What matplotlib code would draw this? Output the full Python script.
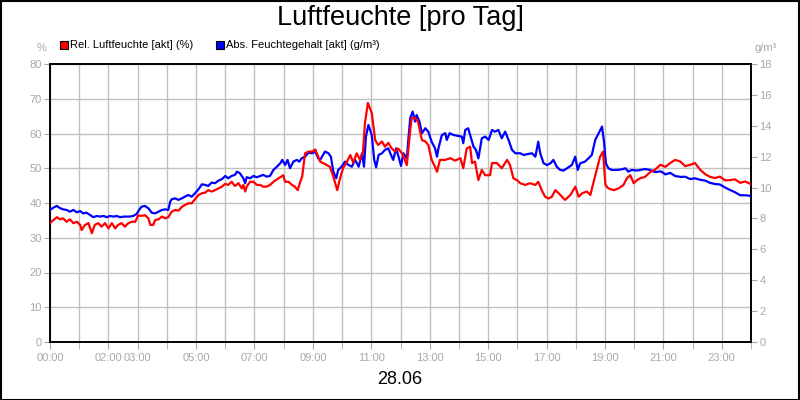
import matplotlib
matplotlib.use("Agg")
import matplotlib.pyplot as plt
from matplotlib.patches import Rectangle
import numpy as np

plt.rcParams['font.family'] = ['Liberation Sans', 'DejaVu Sans']

title = "Luftfeuchte [pro Tag]"
date_label = "28.06"
rel_label = "Rel. Luftfeuchte [akt] (%)"
abs_label = "Abs. Feuchtegehalt [akt] (g/m³)"

# minutes since midnight, relative humidity (%)
rel_min = [0, 7, 14, 21, 27, 34, 41, 48, 55, 62, 65, 72, 79, 86, 92, 99, 106, 113, 120, 127,
           134, 140, 147, 154, 161, 168, 175, 181, 188, 195, 202, 206, 212, 216, 223, 230, 236, 243, 250, 257,
           264, 271, 277, 284, 291, 298, 305, 312, 319, 325, 332, 339, 346, 353, 360, 366, 373, 380, 387, 394,
           397, 401, 404, 411, 418, 425, 432, 438, 445, 452, 459, 466, 473, 479, 483, 490, 497, 503, 509, 514,
           518, 524, 531, 539, 545, 551, 555, 565, 575, 582, 590, 596, 602, 610, 617, 623, 630, 637, 643, 647,
           653, 661, 668, 674, 682, 688, 695, 702, 709, 715, 723, 725, 733, 740, 743, 750, 756, 764, 771, 777,
           784, 791, 795, 801, 812, 822, 832, 843, 849, 856, 863, 867, 873, 880, 887, 894, 904, 908, 918, 928,
           939, 945, 952, 959, 966, 976, 986, 997, 1003, 1010, 1017, 1024, 1031, 1038, 1045, 1052, 1058, 1069, 1079, 1086,
           1093, 1103, 1110, 1116, 1123, 1130, 1136, 1141, 1147, 1158, 1168, 1178, 1185, 1192, 1199, 1206, 1212, 1222, 1233, 1243,
           1254, 1264, 1274, 1284, 1294, 1305, 1315, 1325, 1336, 1346, 1356, 1366, 1376, 1387, 1397, 1407, 1418, 1428, 1440]
rel_val = [34.2, 35.1, 35.9, 35.3, 35.6, 34.6, 35.3, 34.2, 34.6, 33.7, 32.2, 33.7, 34.2, 31.3, 33.7, 34.2, 33.2, 34.2, 32.7, 34.2,
           32.7, 33.7, 34.2, 33.2, 34.2, 34.6, 34.6, 36.4, 36.3, 36.5, 35.6, 33.7, 33.7, 35.1, 35.3, 36.1, 35.6, 35.9, 37.5, 38.0,
           37.8, 38.9, 39.4, 39.9, 39.9, 41.1, 42.3, 42.8, 43.0, 43.7, 43.3, 43.7, 44.2, 44.7, 45.5, 45.2, 46.1, 44.9, 45.7, 44.2,
           45.2, 43.3, 44.7, 46.1, 46.1, 45.2, 45.2, 44.7, 44.7, 45.2, 46.1, 46.8, 47.4, 48.0, 46.1, 46.1, 45.2, 44.7, 43.7, 46.1,
           47.6, 54.3, 54.8, 54.8, 55.4, 53.3, 51.9, 51.2, 50.4, 47.6, 43.7, 47.2, 50.0, 51.9, 53.8, 51.6, 54.3, 52.4, 54.8, 63.0,
           68.8, 65.9, 58.1, 56.7, 57.7, 56.2, 57.3, 55.7, 54.8, 55.7, 54.3, 53.8, 50.9, 61.0, 64.4, 64.5, 63.4, 58.1, 57.7, 56.7,
           52.4, 50.4, 49.0, 52.4, 52.4, 52.9, 52.2, 52.9, 50.0, 55.7, 56.2, 51.5, 51.9, 46.6, 49.5, 48.0, 48.0, 51.5, 51.5, 50.0,
           52.4, 50.9, 47.1, 46.6, 45.7, 45.2, 45.7, 45.2, 46.1, 43.7, 41.8, 41.3, 41.8, 43.7, 42.8, 41.8, 40.9, 42.3, 44.7, 41.8,
           42.8, 43.3, 42.3, 45.7, 49.5, 53.3, 54.8, 45.2, 44.2, 43.7, 44.2, 45.2, 47.1, 48.0, 45.7, 46.6, 47.1, 47.5, 48.9, 49.6,
           51.0, 50.4, 51.5, 52.4, 52.0, 50.6, 51.0, 51.5, 49.5, 48.3, 47.5, 47.2, 47.6, 46.5, 46.6, 46.8, 45.8, 46.2, 45.4]

# minutes since midnight, absolute humidity (g/m³)
abs_min = [0, 7, 14, 21, 27, 34, 41, 48, 55, 62, 68, 75, 82, 89, 96, 103, 110, 117, 123, 130,
           137, 144, 151, 158, 164, 171, 178, 183, 188, 195, 202, 209, 216, 223, 230, 236, 243, 247, 250, 257,
           264, 271, 277, 284, 291, 298, 305, 312, 319, 325, 332, 339, 346, 353, 360, 366, 373, 380, 384, 390,
           397, 401, 404, 411, 418, 425, 432, 438, 445, 452, 459, 466, 473, 477, 483, 488, 493, 500, 507, 512,
           517, 524, 531, 538, 545, 551, 555, 565, 572, 577, 582, 588, 592, 599, 606, 613, 620, 627, 634, 641,
           645, 649, 654, 661, 666, 670, 675, 682, 688, 695, 699, 705, 711, 716, 721, 726, 733, 736, 740, 745,
           750, 753, 759, 764, 771, 777, 784, 791, 795, 798, 805, 812, 815, 821, 829, 839, 846, 849, 853, 859,
           864, 870, 875, 880, 887, 894, 901, 908, 914, 921, 928, 935, 942, 949, 956, 966, 973, 983, 990, 997,
           1003, 1007, 1014, 1021, 1028, 1034, 1041, 1048, 1055, 1062, 1072, 1079, 1084, 1089, 1099, 1106, 1113, 1120, 1127, 1134,
           1138, 1142, 1147, 1154, 1165, 1175, 1182, 1188, 1195, 1206, 1212, 1222, 1233, 1243, 1254, 1260, 1264, 1274, 1284, 1295,
           1305, 1315, 1325, 1336, 1346, 1356, 1366, 1376, 1387, 1397, 1407, 1418, 1428, 1440]
abs_val = [8.55, 8.70, 8.81, 8.66, 8.59, 8.55, 8.44, 8.55, 8.40, 8.48, 8.33, 8.37, 8.23, 8.08, 8.16, 8.12, 8.16, 8.08, 8.16, 8.12,
           8.16, 8.08, 8.12, 8.12, 8.12, 8.16, 8.29, 8.55, 8.76, 8.81, 8.66, 8.37, 8.33, 8.44, 8.55, 8.59, 8.55, 9.09, 9.24, 9.30,
           9.20, 9.30, 9.41, 9.52, 9.41, 9.63, 9.89, 10.21, 10.17, 10.10, 10.32, 10.28, 10.45, 10.54, 10.75, 10.60, 10.75, 10.82, 11.03, 10.93,
           10.60, 10.28, 10.67, 10.60, 10.75, 10.67, 10.75, 10.82, 10.71, 10.75, 11.14, 11.35, 11.57, 11.79, 11.46, 11.79, 11.25, 11.68, 11.79, 11.68,
           11.89, 12.00, 12.26, 12.22, 12.33, 11.89, 11.79, 12.33, 12.22, 12.00, 11.03, 10.60, 11.14, 11.35, 11.68, 11.46, 11.35, 11.79, 11.35, 12.22,
           11.35, 13.30, 14.05, 13.40, 11.79, 11.31, 12.11, 12.22, 12.44, 12.54, 12.22, 11.79, 12.54, 12.00, 11.40, 12.22, 11.89, 13.08, 14.49, 14.92,
           14.27, 14.70, 14.27, 13.52, 13.84, 13.62, 12.97, 12.54, 12.00, 12.54, 13.40, 13.52, 13.08, 13.52, 13.40, 13.34, 13.30, 12.87, 13.73, 13.84,
           13.30, 12.65, 12.44, 11.89, 13.19, 13.30, 13.08, 13.73, 13.62, 13.73, 13.19, 13.62, 13.08, 12.44, 12.22, 12.22, 12.11, 12.18, 12.22, 12.00,
           12.97, 12.22, 11.57, 11.46, 11.57, 11.79, 11.35, 11.14, 11.10, 11.25, 11.46, 12.00, 11.14, 11.57, 11.68, 11.89, 12.11, 13.08, 13.52, 13.95,
           12.97, 11.57, 11.25, 11.14, 11.14, 11.18, 11.25, 11.03, 11.14, 11.10, 11.14, 11.20, 11.14, 11.00, 11.05, 10.95, 10.85, 10.95, 10.75, 10.69,
           10.70, 10.55, 10.60, 10.50, 10.45, 10.30, 10.23, 10.20, 10.00, 9.84, 9.70, 9.50, 9.50, 9.46]

hour_ticks = list(range(0, 25))
xtick_hours = [0, 2, 3, 5, 7, 9, 11, 13, 15, 17, 19, 21, 23]
xtick_labels = ["00:00", "02:00", "03:00", "05:00", "07:00", "09:00", "11:00",
                "13:00", "15:00", "17:00", "19:00", "21:00", "23:00"]
left_ticks = [0, 10, 20, 30, 40, 50, 60, 70, 80]
right_ticks = [0, 2, 4, 6, 8, 10, 12, 14, 16, 18]

RED = "#ff0000"
BLUE = "#0000ff"
GRAY = "#a8a8a8"
GRID = "#c0c0c0"

fig = plt.figure(figsize=(8, 4), dpi=100, facecolor="white")
ax = fig.add_axes([50/800, 58/400, 701/800, 278/400])
ax2 = ax.twinx()

rel_h = np.array(rel_min) / 60.0
abs_h = np.array(abs_min) / 60.0

ax2.plot(abs_h, abs_val, color=BLUE, lw=1.6, solid_joinstyle="round", zorder=3)
ax2.plot(rel_h, rel_val, color=RED, lw=1.6, solid_joinstyle="round", zorder=4,
         transform=ax.transData)

ax.set_xlim(0, 24)
ax.set_ylim(0, 80)
ax2.set_ylim(0, 18)

ax.xaxis.remove_overlapping_locs = False
ax.set_xticks(xtick_hours)
ax.set_xticklabels(xtick_labels)
ax.set_xticks(hour_ticks, minor=True)
ax.tick_params(axis="x", which="major", length=5, color=GRAY, pad=3, labelsize=8, labelcolor=GRAY)
ax.tick_params(axis="x", which="minor", length=5, color=GRAY)
ax.set_yticks(left_ticks)
ax.tick_params(axis="y", length=4, color=GRAY, labelsize=8, labelcolor=GRAY, pad=2)
ax2.set_yticks(right_ticks)
ax2.tick_params(axis="y", length=4, color=GRAY, labelsize=8, labelcolor=GRAY, pad=2)

ax.grid(True, which="minor", axis="x", color=GRID, lw=1)
ax.grid(True, which="major", axis="y", color=GRID, lw=1)
ax.set_axisbelow(True)
for sp in list(ax.spines.values()) + list(ax2.spines.values()):
    sp.set_color("black")
    sp.set_linewidth(1.2)

fig.text(400/800, 1 - 18/400, title, ha="center", va="center", fontsize=19.5, color="black")
fig.text(400/800, 1 - 379/400, date_label, ha="center", va="center", fontsize=13, color="black")
fig.text(42/800, 1 - 48/400, "%", ha="center", va="center", fontsize=8, color=GRAY)
fig.text(766/800, 1 - 48/400, "g/m³", ha="center", va="center", fontsize=8, color=GRAY)

# legend
fig.patches.append(Rectangle((60/800, 1 - 49/400), 8/800, 8/400, transform=fig.transFigure,
                             facecolor=RED, edgecolor="black", lw=0.8))
fig.text(70/800, 1 - 45/400, rel_label, ha="left", va="center", fontsize=8, color="black")
fig.patches.append(Rectangle((216/800, 1 - 49/400), 8/800, 8/400, transform=fig.transFigure,
                             facecolor=BLUE, edgecolor="black", lw=0.8))
fig.text(226/800, 1 - 45/400, abs_label, ha="left", va="center", fontsize=8, color="black")

# figure border
fig.patches.append(Rectangle((0.5/800, 0.5/400), 798.5/800, 398.5/400, transform=fig.transFigure,
                             facecolor="none", edgecolor="black", lw=1.5))

fig.savefig("out.png", dpi=100, facecolor="white")
